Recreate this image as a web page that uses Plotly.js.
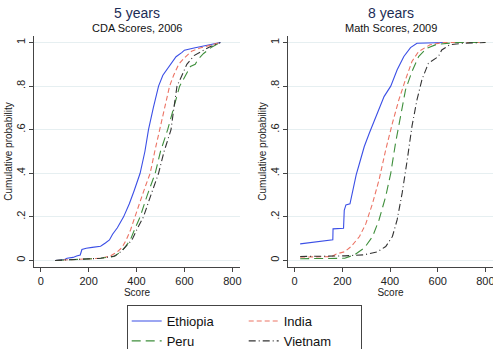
<!DOCTYPE html>
<html>
<head>
<meta charset="utf-8">
<script src="https://cdn.plot.ly/plotly-3.0.1.min.js"></script>
<style>html,body{margin:0;padding:0;background:#fff;}#chart{width:493px;height:349px;}</style>
</head>
<body>
<div id="chart"></div>
<script>
// ---- Data ----
const countries = ["Ethiopia", "India", "Peru", "Vietnam"];
const legendColumns = ["c1", "c2", "c1", "c2"];
const panelTitles = ["5 years", "8 years"];
const panelSubtitles = ["CDA Scores, 2006", "Math Scores, 2009"];
const xTickVals = [0, 200, 400, 600, 800];
const yTickVals = [0, 0.2, 0.4, 0.6, 0.8, 1];
const yTickText = ["0", ".2", ".4", ".6", ".8", "1"];

// 5 years, CDA scores 2006
const eth5X = [60, 100, 110, 135, 150, 165, 172, 190, 215, 250, 270, 287, 300, 320, 346, 370, 390, 415, 435, 450, 470, 492, 510, 541, 565, 590, 600, 640, 700, 750];
const eth5Y = [0, 0.004, 0.01, 0.014, 0.02, 0.025, 0.05, 0.056, 0.06, 0.065, 0.08, 0.094, 0.12, 0.15, 0.2, 0.26, 0.32, 0.4, 0.5, 0.6, 0.7, 0.8, 0.85, 0.9, 0.935, 0.955, 0.965, 0.975, 0.987, 1.0];
const ind5X = [60, 180, 250, 290, 320, 340, 357, 375, 395, 415, 437, 457, 476, 496, 515, 538, 555, 576, 600, 630, 665, 720, 750];
const ind5Y = [0, 0.005, 0.01, 0.02, 0.04, 0.06, 0.094, 0.14, 0.2, 0.27, 0.34, 0.4, 0.5, 0.6, 0.7, 0.8, 0.85, 0.9, 0.93, 0.96, 0.975, 0.99, 1.0];
const per5X = [60, 250, 305, 335, 355, 374, 395, 415, 445, 478, 500, 530, 555, 580, 600, 610, 625, 645, 655, 680, 715, 750];
const per5Y = [0, 0.01, 0.018, 0.04, 0.065, 0.094, 0.15, 0.2, 0.3, 0.4, 0.5, 0.6, 0.7, 0.8, 0.84, 0.86, 0.89, 0.9, 0.92, 0.95, 0.98, 1.0];
const vie5X = [60, 250, 310, 340, 360, 381, 405, 429, 460, 492, 515, 544, 556, 569, 590, 610, 640, 670, 705, 750];
const vie5Y = [0, 0.01, 0.02, 0.045, 0.07, 0.094, 0.15, 0.2, 0.3, 0.4, 0.5, 0.6, 0.7, 0.8, 0.85, 0.9, 0.94, 0.96, 0.98, 1.0];

// 8 years, Math scores 2009
const eth8X = [23, 160, 161, 205, 208, 215, 232, 242, 258, 272, 292, 313, 341, 375, 403, 430, 458, 486, 513, 630];
const eth8Y = [0.076, 0.095, 0.145, 0.148, 0.23, 0.255, 0.26, 0.31, 0.393, 0.446, 0.523, 0.584, 0.66, 0.752, 0.80, 0.875, 0.936, 0.977, 0.997, 1.0];
const ind8X = [23, 155, 175, 210, 237, 272, 299, 327, 354, 382, 410, 437, 465, 492, 520, 568, 623, 800];
const ind8Y = [0.015, 0.018, 0.03, 0.04, 0.064, 0.11, 0.17, 0.263, 0.37, 0.508, 0.63, 0.737, 0.83, 0.913, 0.959, 0.99, 1.0, 1.0];
const per8X = [23, 210, 251, 292, 327, 354, 382, 403, 423, 444, 465, 492, 520, 554, 596, 680, 800];
const per8Y = [0.008, 0.01, 0.026, 0.057, 0.11, 0.187, 0.294, 0.40, 0.538, 0.66, 0.783, 0.867, 0.936, 0.974, 0.992, 1.0, 1.0];
const vie8X = [23, 210, 292, 348, 382, 410, 430, 451, 472, 492, 513, 534, 561, 589, 603, 617, 651, 706, 800];
const vie8Y = [0.018, 0.021, 0.026, 0.04, 0.064, 0.11, 0.187, 0.31, 0.46, 0.615, 0.737, 0.83, 0.905, 0.928, 0.936, 0.966, 0.99, 0.997, 1.0];

// ---- Styles ----
const styles = [
  {color: "#3b4fe6", dash: "solid"},
  {color: "#ec7465", dash: "5px,3px"},
  {color: "#3f8f3c", dash: "9px,5px"},
  {color: "#333333", dash: "7px,3px,1px,3px"}
];

const panel5 = [[eth5X, eth5Y], [ind5X, ind5Y], [per5X, per5Y], [vie5X, vie5Y]];
const panel8 = [[eth8X, eth8Y], [ind8X, ind8Y], [per8X, per8Y], [vie8X, vie8Y]];

const traces = [];
[panel5, panel8].forEach((panel, p) => {
  panel.forEach((xy, i) => {
    traces.push({
      type: "scatter", mode: "lines",
      x: xy[0], y: xy[1],
      name: countries[i],
      legendgroup: legendColumns[i],
      showlegend: p === 0,
      xaxis: p === 0 ? "x" : "x2",
      yaxis: p === 0 ? "y" : "y2",
      line: {color: styles[i].color, dash: styles[i].dash, width: 1.1},
      hoverinfo: "skip"
    });
  });
});

const font = "Liberation Sans, Arial, sans-serif";
function xax(domain, anchor) {
  return {
    domain: domain, anchor: anchor, range: [-28, 832],
    tickvals: xTickVals, ticks: "outside", ticklen: 4, tickcolor: "#444", tickwidth: 1,
    showline: true, linecolor: "#444", linewidth: 1, showgrid: false, zeroline: false,
    ticklabeloverflow: "allow",
    tickfont: {family: font, size: 11, color: "#222"},
    title: {text: "Score", font: {family: font, size: 10, color: "#222"}, standoff: 0},
    fixedrange: true
  };
}
function yax(anchor) {
  return {
    domain: [0.235, 0.8968], anchor: anchor, range: [-0.03, 1.03],
    tickvals: yTickVals, ticktext: yTickText, tickangle: -90,
    ticks: "outside", ticklen: 4, tickcolor: "#444", tickwidth: 1,
    showline: true, linecolor: "#444", linewidth: 1,
    showgrid: true, gridcolor: "#e6eff1", gridwidth: 1, zeroline: false,
    tickfont: {family: font, size: 11, color: "#222"},
    title: {text: "Cumulative probability", font: {family: font, size: 10, color: "#222"}, standoff: 0},
    fixedrange: true
  };
}

const centers = [137 / 493, 390.5 / 493];
const annotations = [];
for (let p = 0; p < 2; p++) {
  annotations.push({xref: "paper", yref: "paper", x: centers[p], y: 1 - 13 / 349, text: panelTitles[p],
    showarrow: false, xanchor: "center", yanchor: "middle", font: {family: font, size: 14, color: "#1c2c55"}});
  annotations.push({xref: "paper", yref: "paper", x: centers[p], y: 1 - 28.5 / 349, text: panelSubtitles[p],
    showarrow: false, xanchor: "center", yanchor: "middle", font: {family: font, size: 11, color: "#111"}});
}

const layout = {
  width: 493, height: 349,
  margin: {l: 0, r: 0, t: 0, b: 0, autoexpand: false},
  paper_bgcolor: "#ffffff", plot_bgcolor: "#ffffff",
  xaxis: xax([34 / 493, 240 / 493], "y"),
  yaxis: yax("x"),
  xaxis2: xax([288 / 493, 1], "y2"),
  yaxis2: yax("x2"),
  annotations: annotations,
  showlegend: true,
  legend: {
    orientation: "h", x: 126.7 / 493, xanchor: "left", y: 1 - 305 / 349, yanchor: "top",
    bordercolor: "#444", borderwidth: 1, bgcolor: "#fff",
    font: {family: font, size: 13, color: "#111"},
    entrywidth: 72, entrywidthmode: "pixels",
    traceorder: "grouped", tracegroupgap: 18
  }
};

Plotly.newPlot("chart", traces, layout, {staticPlot: true, displayModeBar: false});
</script>
</body>
</html>
